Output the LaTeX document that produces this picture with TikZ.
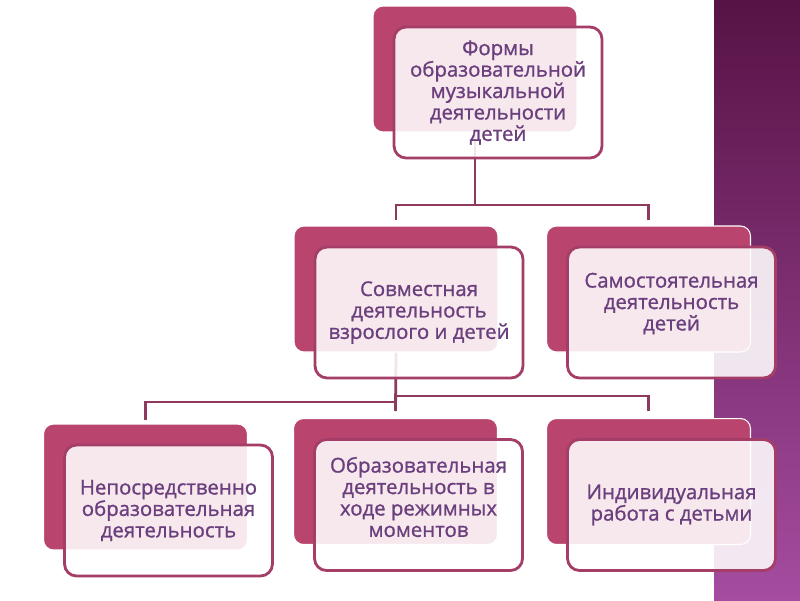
\documentclass[tikz,border=0pt]{standalone}
\usepackage{fontspec}
\setmainfont{Open Sans}
\newfontfamily\boxfont{Open Sans}[FakeBold=1.1]
\usetikzlibrary{positioning}

\definecolor{backpink}{RGB}{185,69,111}
\definecolor{framepink}{RGB}{164,62,104}
\definecolor{linepink}{RGB}{142,58,94}
\definecolor{textpurple}{RGB}{107,63,125}
\definecolor{bandtop}{RGB}{87,19,69}
\definecolor{bandbot}{RGB}{165,76,160}

\tikzset{
  back/.style={fill=backpink, draw=white, line width=0.6pt, rounded corners=0.2cm,
    minimum width=4.08cm, minimum height=2.52cm, inner sep=0pt},
  front/.style={draw=framepink, line width=1.6pt, fill=white, fill opacity=0.88,
    rounded corners=0.24cm, minimum width=4.16cm, minimum height=2.62cm},
  txt/.style={align=center, text=textpurple, inner sep=0pt,
    font=\boxfont\fontsize{11.6}{12.2}\selectfont},
  link/.style={draw=linepink, line width=1.6pt}
}

\begin{document}
\begin{tikzpicture}[x=0.02cm, y=-0.02cm]
  \useasboundingbox (0,0) rectangle (800,600);
  \fill[white] (0,0) rectangle (800,600);
  \shade[top color=bandtop, bottom color=bandbot] (714,0) rectangle (800,600);

  % back plates
  \node[back] (forms-b) at (475,69) {};
  \node[back] (joint-b) at (396,289) {};
  \node[back] (self-b) at (648.5,289) {};
  \node[back] (direct-b) at (145.5,487) {};
  \node[back] (routine-b) at (395.5,481.5) {};
  \node[back] (indiv-b) at (648.5,481.5) {};

  % connectors
  \coordinate (bus1) at (475,205);
  \coordinate (bus2r) at (396,396);
  \coordinate (bus2l) at (396,402);
  \draw[link] (forms-b.south) -- (bus1);
  \draw[link] ([yshift=0.1cm]joint-b.north) |- (bus1) -| ([yshift=0.1cm]self-b.north);
  \draw[link] (joint-b.south) -- ([yshift=0.14cm]routine-b.north);
  \draw[link] (bus2r) -| ([yshift=0.14cm]indiv-b.north);
  \draw[link] (bus2l) -| ([yshift=0.08cm]direct-b.north);

  % front boxes
  \node[front] (forms) at (498,92.5) {};
  \node[front] (joint) at (419,312.5) {};
  \node[front] (self) at (671.5,312.5) {};
  \node[front] (direct) at (168.5,510.5) {};
  \node[front] (routine) at (418.5,505) {};
  \node[front] (indiv) at (671.5,505) {};

  % texts
  \node[txt] (forms-t) at (forms) {Формы\\образовательной\\музыкальной\\деятельности\\детей};
  \node[txt] (joint-t) at (joint) {Совместная\\деятельность\\взрослого и детей};
  \node[txt] (self-t) at ([yshift=0.18cm]self.center) {Самостоятельная\\деятельность\\детей};
  \node[txt] (direct-t) at (direct) {Непосредственно\\образовательная\\деятельность};
  \node[txt] (routine-t) at ([yshift=0.16cm]routine.center) {Образовательная\\деятельность в\\ходе режимных\\моментов};
  \node[txt] (indiv-t) at (indiv) {Индивидуальная\\работа с детьми};
\end{tikzpicture}
\end{document}
